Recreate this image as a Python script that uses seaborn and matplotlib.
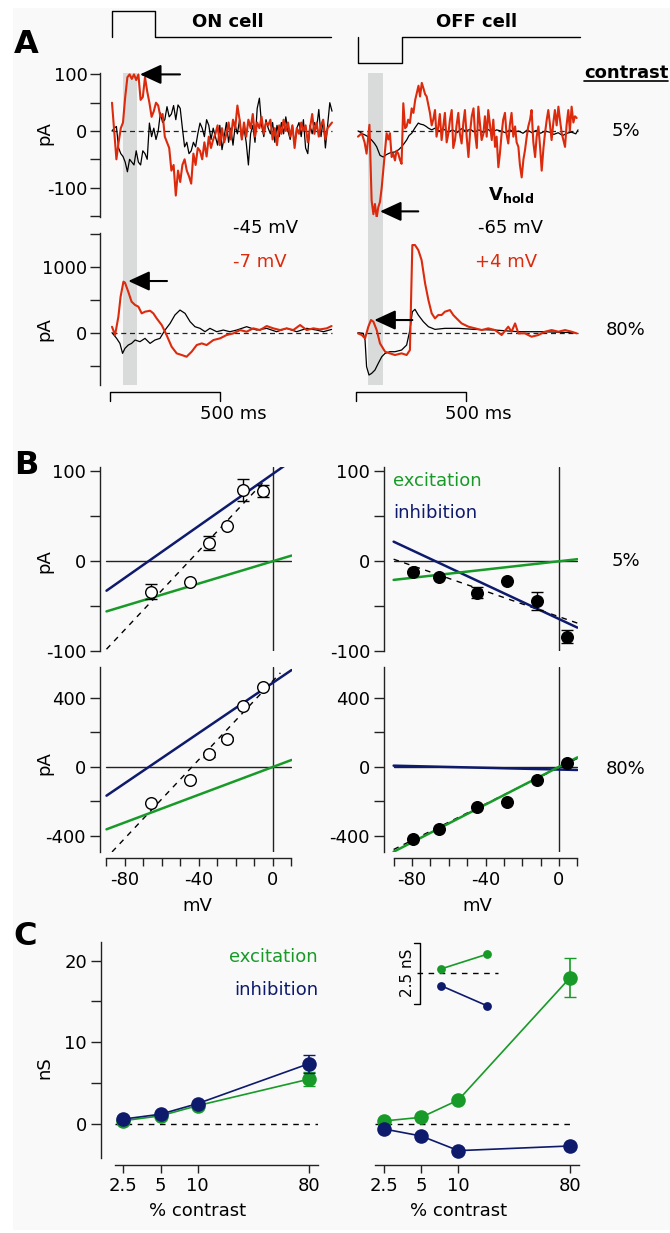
import numpy as np
import pandas as pd
import matplotlib
matplotlib.use("Agg")
import matplotlib.pyplot as plt
import seaborn as sns
from matplotlib.patches import Rectangle
from matplotlib.lines import Line2D

# ---------------- DATA ----------------
# Panel A traces (time in ms, current in pA)
t10 = np.arange(0, 1001, 10)
on5_red = [50, 0, -50, -20, 5, 15, 60, 95, 100, 92,
           100, 90, 100, 55, 60, 95, 70, 50, 25, 35,
           50, 45, 25, 30, -10, -20, -30, -70, -60, -114,
           -70, -90, -60, -50, -70, -80, -93, -40, -60, -30,
           -35, -50, -20, -45, -10, -30, -15, -5, 10, -25,
           5, -20, -5, 15, -15, 20, 5, 45, 20, -15,
           15, -10, 20, 5, 30, -10, 15, 5, 25, -5,
           15, 10, 20, -15, 5, -25, 10, -5, 20, 0,
           15, -10, 10, -30, 5, -5, 15, 0, 10, -20,
           5, 30, -5, 15, -10, 10, 20, -15, 5, 10,
           15]
on5_blk = [0, 5, 8, -30, -40, -45, -55, -72, -50, -55,
           -60, -35, -55, -60, -35, -40, -50, 14, -10, 5,
           -15, 0, 32, 15, 20, 43, 25, 30, 45, 20,
           46, 40, 5, -28, -20, -40, -35, -20, -28, -5,
           14, 5, -10, 20, 10, -15, 5, -10, -25, 10,
           -33, -10, 15, -20, 5, -25, 10, -5, 20, -15,
           5, -20, -60, -5, 10, -20, 40, 58, 10, -10,
           20, 5, -5, 15, -20, 10, -10, 15, -5, 25,
           0, -15, 10, -25, 5, 15, -10, 20, -30, -40,
           10, -5, 15, 5, 38, -10, 20, -30, 10, 50,
           35]
off5_red_t = [0, 17, 30, 39, 52, 62, 70, 77, 85, 92, 100, 108, 120, 130, 138, 145, 153, 160, 168, 175,
              183, 190, 198, 206, 214, 221, 228, 236, 244, 252, 260, 267, 275, 282, 290, 297, 305, 312,
              320, 327, 335, 342, 350, 357, 365, 372, 380, 388, 395, 403, 411, 418, 426, 433, 441, 448,
              456, 463, 471, 479, 486, 494, 502, 510, 517, 525, 532, 540, 547, 555, 562, 570, 577, 585,
              592, 600, 608, 615, 623, 630, 638, 645, 653, 660, 668, 675, 683, 690, 698, 706, 714, 721,
              729, 736, 744, 752, 759, 767, 774, 782, 789, 797, 805, 812, 820, 828, 835, 843, 850, 858,
              865, 873, 880, 888, 895, 903, 911, 918, 926, 933, 941, 948, 956, 963, 971, 979, 986, 994]
off5_red = [-10, -4, -20, -40, 11, -123, -147, -129, -153, -135, -125, -99, -46, -4, -15, -4, -46, -40, -52, -35,
            -40, -50, -58, 49, 5, 8, 20, 14, 40, 32, 55, 67, 80, 61, 85, 76, 65, 61,
            45, 32, 10, 20, 37, -10, 8, 30, -16, 10, 32, -20, -4, 20, 37, -30, -16, 10,
            32, -5, -22, 15, 37, -10, -46, 0, 26, 40, -4, -30, 43, 10, -16, -5, 26, -10,
            37, 10, -16, 20, -28, -10, -64, -40, -4, 20, 32, -5, -22, 10, 32, -10, 8, -20,
            -28, -60, -82, -50, -34, -10, 8, 20, 37, -20, -46, -10, 8, -30, -70, -30, -4, 20,
            37, 10, -16, 15, 37, 10, 43, 20, -4, -15, -28, 10, 37, 0, 43, 15, 26, 23]
off5_blk_t = [0, 10, 20, 32, 45, 62, 75, 85, 100, 115, 128, 138, 150, 168, 185, 198, 210, 221, 232, 244,
              258, 274, 285, 297, 310, 320, 335, 350, 370, 390, 410, 430, 450, 470, 490, 510, 530, 550,
              570, 590, 610, 630, 650, 670, 690, 710, 730, 750, 770, 790, 810, 830, 850, 870, 890, 910,
              930, 950, 970, 990, 1000]
off5_blk = [0, -2, -5, -7, -10, -16, -22, -28, -43, -46, -42, -40, -38, -37, -33, -28, -22, -16, -8, -4,
            5, 14, 12, 11, 8, 5, 2, 5, 0, 3, -2, 2, -3, 4, 0, 3, -2, 2,
            -3, 3, -2, 2, 0, -3, 2, -2, 0, -4, 2, -3, 1, -4, 0, -2, -6, -3,
            -8, -4, -2, -5, 2]
on80_red_t = [0, 14, 29, 39, 52, 59, 74, 89, 105, 120, 135, 150, 173, 188, 203, 226, 248, 271, 294, 317,
              339, 362, 385, 408, 430, 461, 491, 521, 552, 582, 612, 642, 673, 703, 733, 764, 794, 824,
              855, 885, 915, 945, 976, 998]
on80_red = [90, -35, 242, 545, 773, 758, 620, 470, 420, 394, 293, 318, 333, 293, 217, 116, -35, -212, -313, -338,
            -364, -288, -187, -162, -187, -111, -86, -35, -10, 40, 15, 66, 40, 101, 66, 40, 66, 40,
            116, 40, 66, 50, 66, 101]
on80_blk_t = [0, 21, 36, 48, 59, 74, 89, 105, 127, 150, 173, 195, 218, 241, 264, 286, 309, 332, 355, 377,
              400, 423, 445, 476, 506, 536, 567, 612, 658, 703, 748, 794, 839, 885, 930, 961, 998]
on80_blk = [0, -86, -162, -313, -237, -187, -162, -111, -136, -86, -162, -111, -86, 40, 141, 268, 343, 293, 167, 91,
            66, 15, 66, 15, 40, 15, 40, 91, 40, 66, 15, 66, 15, 66, 40, 15, 50]
off80_red_t = [0, 17, 32, 47, 59, 70, 85, 100, 123, 145, 168, 198, 221, 236, 247, 259, 274, 289, 305, 320,
               335, 350, 365, 380, 395, 418, 433, 448, 471, 502, 532, 562, 592, 623, 653, 683, 698, 714,
               729, 759, 789, 820, 850, 880, 911, 941, 971, 994]
off80_red = [-10, -35, -86, 91, 192, 167, 40, -162, -288, -313, -338, -313, -338, -263, 1328, 1328, 1253, 1101, 747, 495,
             293, 217, 268, 268, 318, 343, 268, 217, 141, 91, 66, 40, 66, 40, -35, 91, 15, 141,
             -10, -10, -61, -35, 15, 40, 15, 40, 15, -10]
off80_blk_t = [0, 24, 32, 39, 50, 62, 77, 92, 108, 123, 145, 168, 198, 221, 236, 247, 259, 274, 297, 320,
               350, 395, 456, 532, 623, 729, 835, 986]
off80_blk = [0, -10, -111, -515, -641, -616, -566, -465, -364, -313, -288, -288, -263, -187, 40, 318, 354, 268, 167, 91,
             50, 66, 66, 50, 40, 15, 15, 0]

# Panel B: I-V data (mV, pA)
on_vm = [-66, -45, -34.5, -25, -16, -5.5]
on5_pa = [-34, -23, 20, 39, 79, 78]
on5_err = [8, 0, 8, 0, 12, 7]
on80_pa = [-209, -77, 72, 160, 354, 460]
on80_err = [0, 0, 14, 12, 0, 0]
off_vm = [-79.3, -65.3, -44.8, -28.5, -12.1, 4.5]
off5_pa = [-12, -18, -35, -22, -44, -84]
off5_err = [0, 0, 6, 0, 10, 7]
off80_pa = [-421, -361, -232, -203, -77, 19]
# fitted lines (endpoints): (mV list, pA list)
on5_exc = ([-90, 10], [-56, 6]);     on5_inh = ([-90, 7], [-33, 107]);   on5_fit = ([-90, -5], [-98, 88])
on80_exc = ([-90, 10], [-363, 39]);  on80_inh = ([-90, 10], [-168, 560]); on80_fit = ([-87, 4], [-494, 544])
off5_exc = ([-90, 10], [-21, 2]);    off5_inh = ([-90, 10], [21.5, -74]); off5_fit = ([-90, 10], [2, -69])
off80_exc = ([-90, 10], [-493, 54]); off80_inh = ([-90, 10], [6, -19]);   off80_fit = ([-90, 10], [-480, 48])

# Panel C: conductance vs contrast
contrast = [2.5, 5, 10, 80]
contrast_labels = ["2.5", "5", "10", "80"]
on_exc_nS = [0.4, 1.0, 2.25, 5.5];   on_exc_err = [0, 0, 0, 0.9]
on_inh_nS = [0.6, 1.2, 2.5, 7.4];    on_inh_err = [0, 0, 0, 1.1]
off_exc_nS = [0.37, 0.82, 2.94, 17.9]; off_exc_err = [0, 0, 0, 2.4]
off_inh_nS = [-0.61, -1.47, -3.26, -2.69]
inset_x = [0, 1]
inset_exc = [0.18, 0.78]; inset_exc_err = [0, 0.05]
inset_inh = [-0.51, -1.33]; inset_inh_err = [0, 0.08]

# ---------------- STYLE ----------------
sns.set_style("ticks")
plt.rcParams.update({
    "font.family": ["DejaVu Sans"],
    "font.size": 13,
    "text.color": "black",
    "axes.labelcolor": "black",
    "axes.unicode_minus": False,
    "axes.linewidth": 1.0,
    "axes.edgecolor": "#222222",
    "xtick.color": "#222222", "ytick.color": "#222222",
    "xtick.labelcolor": "black", "ytick.labelcolor": "black",
    "xtick.labelsize": 13, "ytick.labelsize": 13,
    "xtick.major.size": 6, "ytick.major.size": 7,
    "xtick.minor.size": 6, "ytick.minor.size": 7,
    "xtick.major.width": 1, "ytick.major.width": 1,
    "xtick.minor.width": 1, "ytick.minor.width": 1,
})

RED = "#dc2a0c"
GREEN = "#189a28"
NAVY = "#0e1a6c"
GRAYBAND = "#d9dbdb"

W, H = 670, 1233
fig = plt.figure(figsize=(W / 100, H / 100), dpi=100)
fig.patch.set_facecolor("white")
fig.patches.append(Rectangle((13 / W, 1 - 1230 / H), (670 - 13) / W, (1230 - 8) / H,
                             transform=fig.transFigure, facecolor="#f9f9f9", edgecolor="none", zorder=-10))


def axpx(l, t, r, b):
    ax = fig.add_axes([l / W, 1 - b / H, (r - l) / W, (b - t) / H])
    ax.set_facecolor("none")
    return ax


def ftext(x, y, s, **kw):
    kw.setdefault("color", "black")
    return fig.text(x / W, 1 - y / H, s, **kw)


def style(ax, left=True, bottom=False):
    for s in ["top", "right"]:
        ax.spines[s].set_visible(False)
    ax.spines["left"].set_visible(left)
    ax.spines["bottom"].set_visible(bottom)
    if not left:
        ax.tick_params(axis="y", which="both", left=False, labelleft=False)
    if not bottom:
        ax.tick_params(axis="x", which="both", bottom=False, labelbottom=False)
    ax.set_xlabel("")
    ax.set_ylabel("")


def line(ax, x, y, color, lw, **kw):
    sns.lineplot(x=list(x), y=list(y), ax=ax, color=color, linewidth=lw,
                 estimator=None, sort=False, **kw)


# ---------------- PANEL A ----------------
s5 = 0.566   # px per pA (5%)
s80 = 0.066  # px per pA (80%)
ylimA5 = ((131 - 217) / s5, (131 - 73) / s5)
ylimA80 = ((332.7 - 385) / s80, (332.7 - 233) / s80)

axA1 = axpx(100, 73, 336, 217)
axA2 = axpx(350, 73, 590, 217)
axA3 = axpx(100, 233, 336, 385)
axA4 = axpx(350, 233, 590, 385)

for ax, x0 in [(axA1, 112), (axA3, 112)]:
    ax.set_xlim((100 - x0) / 0.22, (336 - x0) / 0.22)
for ax, x0 in [(axA2, 358), (axA4, 358)]:
    ax.set_xlim((350 - x0) / 0.22, (590 - x0) / 0.22)
for ax in (axA1, axA2):
    ax.set_ylim(*ylimA5)
for ax in (axA3, axA4):
    ax.set_ylim(*ylimA80)

# gray bands
for ax, (a, b) in [(axA1, (50, 114)), (axA2, (47, 112))]:
    ax.axvspan(a, b, ymin=-0.12, ymax=1.0, color=GRAYBAND, lw=0, clip_on=False, zorder=0)
for ax, (a, b) in [(axA3, (50, 114)), (axA4, (47, 112))]:
    ax.axvspan(a, b, color=GRAYBAND, lw=0, zorder=0)

# dashed baselines
for ax in (axA1, axA2, axA3, axA4):
    ax.plot([0, 1000], [0, 0], ls=(0, (4, 3)), color="#222222", lw=0.9, zorder=1)

line(axA1, t10, on5_blk, "black", 0.9, zorder=2)
line(axA1, t10, on5_red, RED, 1.5, zorder=3)
line(axA2, off5_blk_t, off5_blk, "black", 0.9, zorder=2)
line(axA2, off5_red_t, off5_red, RED, 1.5, zorder=3)
line(axA3, on80_blk_t, on80_blk, "black", 0.9, zorder=2)
line(axA3, on80_red_t, on80_red, RED, 1.5, zorder=3)
line(axA4, off80_blk_t, off80_blk, "black", 0.9, zorder=2)
line(axA4, off80_red_t, off80_red, RED, 1.5, zorder=3)

# stimulus traces
axA1.plot([0, 0, 195, 195, 995], [166, 212, 212, 166, 166], color="black", lw=1, clip_on=False)
axA2.plot([0, 0, 199, 199, 1010], [166, 120, 120, 166, 166], color="black", lw=1, clip_on=False)

# scale bars
for ax in (axA3, axA4):
    ax.plot([-9, -9, 491, 491], [-1035, -898, -898, -1035], color="black", lw=1, clip_on=False)

# arrows
arrow_kw = dict(arrowstyle="-|>,head_length=0.65,head_width=0.3", color="black", lw=1.5,
                mutation_scale=20, shrinkA=0, shrinkB=0)
axA1.annotate("", xy=(127, 100), xytext=(309, 100), arrowprops=arrow_kw, annotation_clip=False)
axA3.annotate("", xy=(74, 783), xytext=(250, 783), arrowprops=arrow_kw, annotation_clip=False)
axA2.annotate("", xy=(100, -142), xytext=(274, -142), arrowprops=arrow_kw, annotation_clip=False)
axA4.annotate("", xy=(74, 192), xytext=(247, 192), arrowprops=arrow_kw, annotation_clip=False)

style(axA1); style(axA2, left=False); style(axA3); style(axA4, left=False)
axA1.set_yticks([-100, 0, 100]); axA1.set_yticks([-150, -50, 50], minor=True)
axA3.set_yticks([0, 1000]); axA3.set_yticks([-500, 500, 1500], minor=True)
for ax in (axA1, axA3):
    ax.tick_params(axis="y", which="both", pad=2)

# ---------------- PANEL B ----------------
B_L = [axpx(100, 467, 292, 651), axpx(100, 667, 292, 852)]
B_R = [axpx(384, 467, 578, 651), axpx(384, 667, 578, 852)]
for ax in B_L:
    ax.set_xlim((100 - 273) / 1.85, (292 - 273) / 1.85)
for ax in B_R:
    ax.set_xlim((384 - 559) / 1.8375, (578 - 559) / 1.8375)
for ax in (B_L[0], B_R[0]):
    ax.set_ylim((561 - 651) / 0.9, (561 - 467) / 0.9)
for ax in (B_L[1], B_R[1]):
    ax.set_ylim((766.7 - 852) / 0.1725, (766.7 - 667) / 0.1725)

panels = [
    (B_L[0], on_vm, on5_pa, on5_err, on5_exc, on5_inh, on5_fit, False),
    (B_L[1], on_vm, on80_pa, on80_err, on80_exc, on80_inh, on80_fit, False),
    (B_R[0], off_vm, off5_pa, off5_err, off5_exc, off5_inh, off5_fit, True),
    (B_R[1], off_vm, off80_pa, [0] * 6, off80_exc, off80_inh, off80_fit, True),
]
for ax, vm, pa, err, exc, inh, fit, filled in panels:
    ax.plot([-90, 10], [0, 0], color="#222222", lw=1, zorder=1)
    ax.axvline(0, color="#222222", lw=1, zorder=1)
    line(ax, fit[0], fit[1], "black", 1.0, zorder=2, linestyle=(0, (4, 4)))
    line(ax, inh[0], inh[1], NAVY, 1.8, zorder=3)
    line(ax, exc[0], exc[1], GREEN, 1.8, zorder=4)
    ax.errorbar(vm, pa, yerr=err, fmt="none", ecolor="black", elinewidth=1, capsize=4, zorder=5)
    sns.scatterplot(x=vm, y=pa, ax=ax, s=70, marker="o",
                    color="black" if filled else "white", edgecolor="black", linewidth=1.0, zorder=6)

style(B_L[0]); style(B_R[0]); style(B_L[1], bottom=True); style(B_R[1], bottom=True)
for ax in (B_L[0], B_R[0]):
    ax.set_yticks([-100, 0, 100]); ax.set_yticks([-50, 50], minor=True)
for ax in (B_L[1], B_R[1]):
    ax.set_yticks([-400, 0, 400]); ax.set_yticks([-200, 200], minor=True)
    ax.spines["bottom"].set_position(("outward", 4.5))
    ax.spines["bottom"].set_bounds(-90, 10)
    ax.set_xticks([-80, -40, 0])
    ax.set_xticks([-90, -70, -60, -50, -30, -20, -10, 10], minor=True)
    ax.tick_params(axis="x", which="both", pad=3)
for ax in B_L + B_R:
    ax.tick_params(axis="y", which="both", pad=3)

# ---------------- PANEL C ----------------
sC = 8.17
C_L = axpx(101, 942, 318, 1158)
C_R = axpx(370, 942, 580, 1158)
l2 = np.log2(2.5)
C_L.set_xscale("log", base=2); C_R.set_xscale("log", base=2)
C_L.set_xlim(2 ** (l2 - 22.3 / 37.2), 2 ** (l2 + 194.7 / 37.2))
C_R.set_xlim(2 ** (l2 - 14 / 37.2), 2 ** (l2 + 196 / 37.2))
for ax in (C_L, C_R):
    ax.set_ylim((1124 - 1158) / sC, (1124 - 942) / sC)

C_L.plot([2.14, 94.1], [0, 0], ls=(0, (4, 4)), color="black", lw=1, zorder=1)
C_R.plot([2.114, 87.8], [0, 0], ls=(0, (4, 4)), color="black", lw=1, zorder=1)

for ax, exc, exc_e, inh, inh_e in [(C_L, on_exc_nS, on_exc_err, on_inh_nS, on_inh_err),
                                   (C_R, off_exc_nS, off_exc_err, off_inh_nS, [0] * 4)]:
    line(ax, contrast, exc, GREEN, 1.2, zorder=2)
    ax.errorbar(contrast, exc, yerr=exc_e, fmt="none", ecolor=GREEN, elinewidth=1.2, capsize=4, zorder=3)
    sns.scatterplot(x=contrast, y=exc, ax=ax, s=110, color=GREEN, edgecolor=GREEN, linewidth=0, zorder=4)
    line(ax, contrast, inh, NAVY, 1.2, zorder=5)
    ax.errorbar(contrast, inh, yerr=inh_e, fmt="none", ecolor=NAVY, elinewidth=1.2, capsize=4, zorder=6)
    sns.scatterplot(x=contrast, y=inh, ax=ax, s=110, color=NAVY, edgecolor=NAVY, linewidth=0, zorder=7)

style(C_L, bottom=True); style(C_R, left=False, bottom=True)
C_L.set_yticks([0, 10, 20]); C_L.set_yticks([5, 15], minor=True)
C_L.tick_params(axis="y", which="both", pad=3)
for ax in (C_L, C_R):
    ax.spines["bottom"].set_position(("outward", 5))
    ax.set_xticks(contrast)
    ax.set_xticklabels(contrast_labels)
    ax.xaxis.set_minor_locator(matplotlib.ticker.NullLocator())
    ax.tick_params(axis="x", which="both", pad=3)
C_L.spines["bottom"].set_bounds(2.14, 94.1)
C_R.spines["bottom"].set_bounds(2.114, 94.6)

# inset
C_in = axpx(400, 938, 500, 1010)
C_in.set_xlim((400 - 441) / 45.7, (500 - 441) / 45.7)
C_in.set_ylim((973.3 - 1010) / 24.3, (973.3 - 938) / 24.3)
C_in.plot([-0.53, 1.24], [0, 0], ls=(0, (4, 4)), color="black", lw=1)
C_in.plot([-0.59, -0.46, -0.46, -0.59], [1.235, 1.235, -1.265, -1.265], color="black", lw=1, clip_on=False)
line(C_in, inset_x, inset_exc, GREEN, 1.2)
line(C_in, inset_x, inset_inh, NAVY, 1.2)
C_in.errorbar(inset_x, inset_exc, yerr=inset_exc_err, fmt="none", ecolor=GREEN, capsize=2.5, elinewidth=1)
C_in.errorbar(inset_x, inset_inh, yerr=inset_inh_err, fmt="none", ecolor=NAVY, capsize=2.5, elinewidth=1)
sns.scatterplot(x=inset_x, y=inset_exc, ax=C_in, s=40, color=GREEN, linewidth=0, zorder=5)
sns.scatterplot(x=inset_x, y=inset_inh, ax=C_in, s=40, color=NAVY, linewidth=0, zorder=5)
C_in.axis("off")

# ---------------- TEXT ----------------
bold = dict(fontweight="bold")
ftext(26, 53, "A", fontsize=23, ha="center", va="baseline", **bold)
ftext(26, 474, "B", fontsize=23, ha="center", va="baseline", **bold)
ftext(25, 945, "C", fontsize=23, ha="center", va="baseline", **bold)
ftext(228, 27, "ON cell", fontsize=13, ha="center", va="baseline", **bold)
ftext(477, 27, "OFF cell", fontsize=13, ha="center", va="baseline", **bold)
ctxt = ftext(584, 78, "contrast", fontsize=13, ha="left", va="baseline", **bold)
ftext(626, 136, "5%", fontsize=13, ha="center", va="baseline")
ftext(626, 335, "80%", fontsize=13, ha="center", va="baseline")
ftext(233, 233, "-45 mV", fontsize=13, ha="left", va="baseline")
ftext(233, 267, "-7 mV", fontsize=13, ha="left", va="baseline", color=RED)
ftext(488, 200, r"$\mathbf{V}_{\mathbf{hold}}$", fontsize=13, ha="left", va="baseline")
ftext(478, 233, "-65 mV", fontsize=13, ha="left", va="baseline")
ftext(475, 267, "+4 mV", fontsize=13, ha="left", va="baseline", color=RED)
ftext(233, 419, "500 ms", fontsize=13, ha="center", va="baseline")
ftext(478, 419, "500 ms", fontsize=13, ha="center", va="baseline")
ftext(44, 133, "pA", fontsize=13, ha="center", va="center", rotation=90)
ftext(44, 329, "pA", fontsize=13, ha="center", va="center", rotation=90)
ftext(44, 561, "pA", fontsize=13, ha="center", va="center", rotation=90)
ftext(44, 763, "pA", fontsize=13, ha="center", va="center", rotation=90)
ftext(393, 486, "excitation", fontsize=13, ha="left", va="baseline", color=GREEN)
ftext(393, 518, "inhibition", fontsize=13, ha="left", va="baseline", color=NAVY)
ftext(626, 566, "5%", fontsize=13, ha="center", va="baseline")
ftext(626, 774, "80%", fontsize=13, ha="center", va="baseline")
ftext(197, 911, "mV", fontsize=13, ha="center", va="baseline")
ftext(477, 911, "mV", fontsize=13, ha="center", va="baseline")
ftext(318, 962, "excitation", fontsize=13, ha="right", va="baseline", color=GREEN)
ftext(318, 995, "inhibition", fontsize=13, ha="right", va="baseline", color=NAVY)
ftext(44, 1068, "nS", fontsize=13, ha="center", va="center", rotation=90)
ftext(198, 1216, "% contrast", fontsize=13, ha="center", va="baseline")
ftext(459, 1216, "% contrast", fontsize=13, ha="center", va="baseline")
ftext(408, 973, "2.5 nS", fontsize=11, ha="center", va="center", rotation=90)

# underline for "contrast"
fig.canvas.draw()
bb = ctxt.get_window_extent()
y_ul = 1 - 81 / H
fig.add_artist(Line2D([bb.x0 / fig.bbox.width, bb.x1 / fig.bbox.width],
                      [y_ul, y_ul], transform=fig.transFigure, color="black", lw=1.2))

fig.savefig("out.png", dpi=100, facecolor=fig.get_facecolor())
